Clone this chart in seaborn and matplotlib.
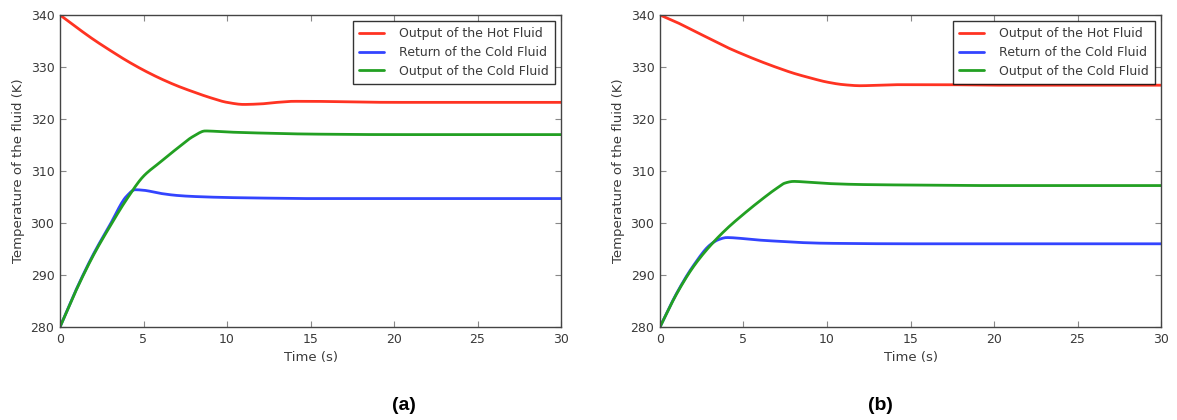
import numpy as np
import pandas as pd
import seaborn as sns
import matplotlib
matplotlib.use("Agg")
import matplotlib.pyplot as plt

# ---- data ----
series_names = ["Output of the Hot Fluid", "Return of the Cold Fluid", "Output of the Cold Fluid"]

t_hot = [0, 1, 2, 3, 4, 5, 6, 7, 8, 9, 10, 11, 12, 13, 14, 15, 17, 20, 25, 30]
hot_a = [340, 337.6, 335.3, 333.2, 331.2, 329.4, 327.8, 326.4, 325.2, 324.1,
         323.2, 322.8, 322.9, 323.2, 323.4, 323.4, 323.3, 323.2, 323.2, 323.2]
hot_b = [340, 338.6, 337.0, 335.4, 333.8, 332.4, 331.1, 329.9, 328.8, 327.9,
         327.1, 326.6, 326.4, 326.5, 326.6, 326.6, 326.6, 326.5, 326.5, 326.5]

t_ret_a = [0, 1, 2, 3, 4, 4.5, 5, 6, 7, 8, 10, 12, 15, 20, 25, 30]
ret_a = [280, 287.4, 294.0, 299.7, 305.2, 306.4, 306.3, 305.7, 305.3, 305.1,
         304.9, 304.8, 304.7, 304.7, 304.7, 304.7]
t_out_a = [0, 1, 2, 3, 4, 5, 6, 7, 8, 8.7, 10, 12, 15, 20, 25, 30]
out_a = [280, 287.3, 293.8, 299.4, 304.6, 309.0, 311.7, 314.3, 316.7, 317.7,
         317.5, 317.3, 317.1, 317.0, 317.0, 317.0]

t_ret_b = [0, 1, 2, 3, 3.5, 4, 5, 6, 7, 8, 10, 15, 20, 25, 30]
ret_b = [280, 286.5, 291.8, 295.8, 296.8, 297.2, 297.0, 296.7, 296.5, 296.3,
         296.1, 296.0, 296.0, 296.0, 296.0]
t_out_b = [0, 1, 2, 3, 4, 5, 6, 7, 7.5, 8, 9, 10, 12, 15, 20, 25, 30]
out_b = [280, 286.4, 291.6, 295.6, 298.9, 301.7, 304.3, 306.7, 307.7, 308.0,
         307.8, 307.6, 307.4, 307.3, 307.2, 307.2, 307.2]

panel_labels = ["a", "b"]
x_ticks = [0, 5, 10, 15, 20, 25, 30]
y_ticks = [280, 290, 300, 310, 320, 330, 340]


def smooth(t, y, n=400):
    # monotone cubic (PCHIP-like) resampling of read points for smooth drawing
    t = np.asarray(t, float); y = np.asarray(y, float)
    h = np.diff(t); d = np.diff(y) / h
    m = np.zeros_like(y)
    for k in range(1, len(y) - 1):
        if d[k - 1] * d[k] <= 0:
            m[k] = 0
        else:
            w1 = 2 * h[k] + h[k - 1]; w2 = h[k] + 2 * h[k - 1]
            m[k] = (w1 + w2) / (w1 / d[k - 1] + w2 / d[k])
    m[0] = d[0]; m[-1] = d[-1]
    tt = np.linspace(t[0], t[-1], n)
    idx = np.clip(np.searchsorted(t, tt) - 1, 0, len(t) - 2)
    hh = h[idx]; s = (tt - t[idx]) / hh
    h00 = 2 * s**3 - 3 * s**2 + 1; h10 = s**3 - 2 * s**2 + s
    h01 = -2 * s**3 + 3 * s**2; h11 = s**3 - s**2
    yy = h00 * y[idx] + h10 * hh * m[idx] + h01 * y[idx + 1] + h11 * hh * m[idx + 1]
    return tt, yy


def make_df(parts):
    frames = []
    for name, t, y in parts:
        tt, yy = smooth(t, y)
        frames.append(pd.DataFrame({"Time": tt, "Temp": yy, "Series": name}))
    return pd.concat(frames, ignore_index=True)


df_a = make_df([(series_names[0], t_hot, hot_a),
                (series_names[1], t_ret_a, ret_a),
                (series_names[2], t_out_a, out_a)])
df_b = make_df([(series_names[0], t_hot, hot_b),
                (series_names[1], t_ret_b, ret_b),
                (series_names[2], t_out_b, out_b)])

sns.set_theme(style="white")
plt.rcParams["font.family"] = ["DejaVu Sans"]
text_col = "#3a3a3a"

palette = {series_names[0]: "#ff3322", series_names[1]: "#3344ff", series_names[2]: "#22a022"}

fig = plt.figure(figsize=(11.77, 4.2), dpi=100)
ax_a = fig.add_axes([60 / 1177, 93 / 420, 501 / 1177, 312 / 420])
ax_b = fig.add_axes([660 / 1177, 93 / 420, 501 / 1177, 312 / 420])

for ax, df, lab, cx in [(ax_a, df_a, "a", 404 / 1177), (ax_b, df_b, "b", 880 / 1177)]:
    sns.lineplot(data=df, x="Time", y="Temp", hue="Series", palette=palette,
                 hue_order=series_names, linewidth=2, ax=ax, sort=False)
    ax.set_xlim(0, 30)
    ax.set_ylim(280, 340)
    ax.set_xticks(x_ticks)
    ax.set_yticks(y_ticks)
    ax.set_xlabel("Time (s)", fontsize=9.5, color=text_col, labelpad=4)
    ax.set_ylabel("Temperature of the fluid (K)", fontsize=9.5, color=text_col, labelpad=4)
    ax.tick_params(axis="both", direction="in", length=4, width=0.8, labelsize=9,
                   colors="#888888", labelcolor=text_col, top=True, right=True,
                   bottom=True, left=True, pad=4)
    for sp in ax.spines.values():
        sp.set_visible(True)
        sp.set_color("#444444")
        sp.set_linewidth(1.0)
    leg = ax.legend(loc="upper right", fontsize=9, frameon=True, fancybox=False,
                    borderpad=0.5, labelspacing=0.45, handlelength=2.0,
                    handletextpad=1.2, borderaxespad=0.5)
    leg.get_frame().set_edgecolor("black")
    leg.get_frame().set_linewidth(1.0)
    for txt in leg.get_texts():
        txt.set_color(text_col)
    fig.text(cx, 6 / 420, "(" + lab + ")", ha="center", va="bottom",
             fontsize=14, family="Liberation Sans", color="black", fontweight="bold")

fig.savefig("out.png", dpi=100)
